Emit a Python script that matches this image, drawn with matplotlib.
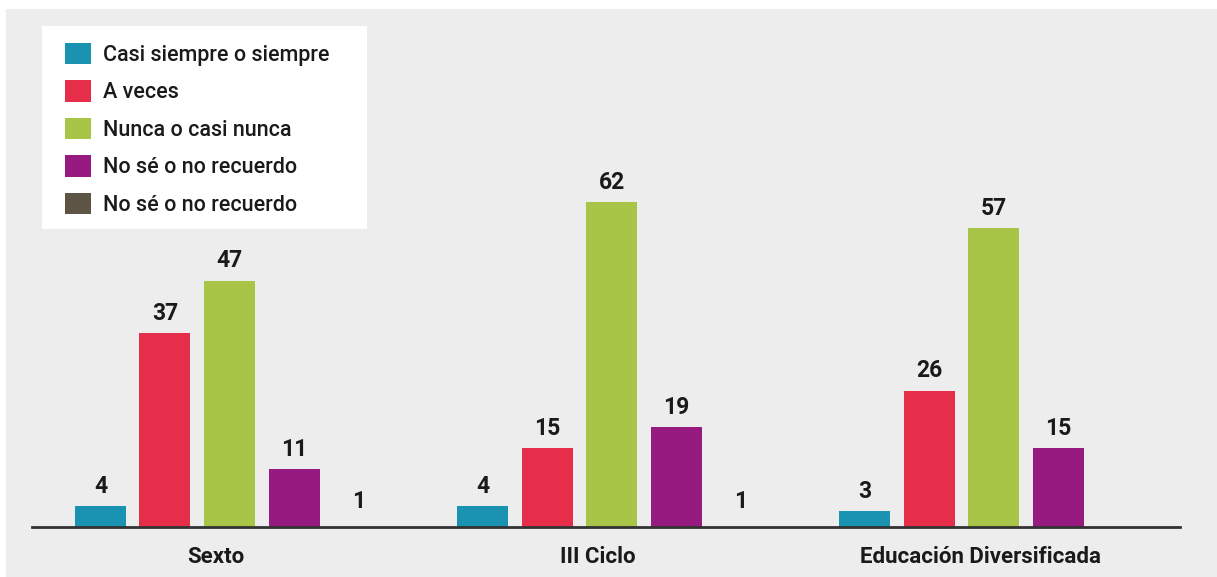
import matplotlib
matplotlib.use("Agg")
import matplotlib.pyplot as plt
from matplotlib.patches import Patch, Rectangle
import numpy as np

plt.rcParams['font.family'] = ['Roboto', 'DejaVu Sans']

# categories and series values (percent)
niveles = ["Sexto", "III Ciclo", "Educación Diversificada"]
series = ["Casi siempre o siempre", "A veces", "Nunca o casi nunca",
          "No sé o no recuerdo", "No sé o no recuerdo"]
casi_siempre = [4, 4, 3]
a_veces = [37, 15, 26]
nunca = [47, 62, 57]
no_se = [11, 19, 15]
no_se_2 = [1, 1, None]

colores = ["#1a92b2", "#e62d4a", "#a9c548", "#961a7f", "#5d5445"]
fondo = "#ededed"

W, H = 1217, 577
fig = plt.figure(figsize=(W / 100, H / 100), dpi=100, facecolor="white")
# grey panel behind the chart
panel = Rectangle((6 / W, 0), 1, 1 - 9 / H, transform=fig.transFigure,
                  facecolor=fondo, edgecolor="none", linewidth=0, zorder=-10)
fig.add_artist(panel)
# white box behind the legend
caja = Rectangle((42 / W, 1 - 229 / H), 325 / W, 203 / H, transform=fig.transFigure,
                 facecolor="white", edgecolor="none", linewidth=0, zorder=-5)
fig.add_artist(caja)

ax = fig.add_axes([32 / W, 50 / H, 1148 / W, 518 / H])
ax.set_facecolor("none")
ax.set_zorder(5)

x = np.arange(len(niveles))
paso = 0.1689
ancho = 0.1335
valores = [casi_siempre, a_veces, nunca, no_se, no_se_2]

for i, (vals, col) in enumerate(zip(valores, colores)):
    idx = [j for j, v in enumerate(vals) if v is not None]
    alturas = [vals[j] for j in idx]
    pos = x[idx] + (i - 2) * paso
    # the last series is too small to show as a bar, only its label
    bars = ax.bar(pos, alturas, width=ancho, color=col, alpha=0 if i == 4 else 1, zorder=2)
    ax.bar_label(bars, labels=[str(v) for v in alturas], padding=6,
                 fontsize=16.5, fontweight="bold", color="#1a1a1a")

ax.set_xlim(-0.517, 2.488)
ax.set_ylim(0, 98.85)

ax.set_xticks(x - 0.035)
ax.set_xticklabels(niveles, fontsize=16, fontweight="bold", color="#1a1a1a")
ax.tick_params(axis="x", length=0, pad=14)
ax.set_yticks([])
for s in ["top", "right", "left"]:
    ax.spines[s].set_visible(False)
ax.spines["bottom"].set_linewidth(2)
ax.spines["bottom"].set_color("#333333")

handles = [Patch(facecolor=c, edgecolor="none") for c in colores]
leg = ax.legend(handles, series, loc="upper left", bbox_to_anchor=(65 / W, 1 - 43 / H),
                bbox_transform=fig.transFigure, frameon=False,
                prop={"size": 15.5, "weight": "medium"}, borderpad=0,
                handlelength=1.2, handleheight=1.15, handletextpad=0.55, labelspacing=0.67,
                borderaxespad=0)
for t in leg.get_texts():
    t.set_color("#1a1a1a")

fig.savefig("out.png", dpi=100, facecolor=fig.get_facecolor())
